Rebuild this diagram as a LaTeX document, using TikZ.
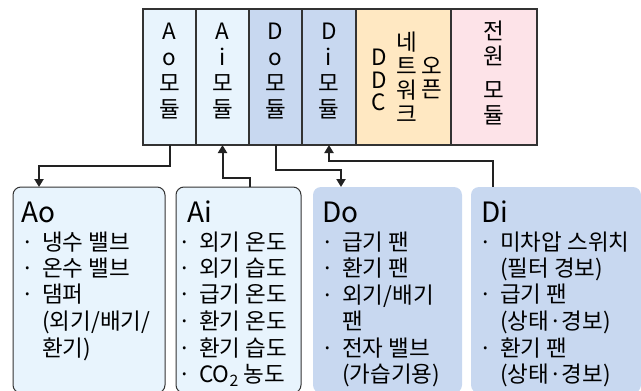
\documentclass[tikz,border=0pt]{standalone}
\usepackage{fontspec}
\setmainfont{Noto Sans CJK KR}
\usetikzlibrary{positioning,calc,arrows.meta}
\definecolor{aolight}{HTML}{E8F4FD}
\definecolor{doblue}{HTML}{C8D8F0}
\definecolor{netorange}{HTML}{FFE8C2}
\definecolor{powerpink}{HTML}{FDE3E8}
\definecolor{edgegray}{HTML}{333333}
\definecolor{arrowblack}{HTML}{222222}
\newcommand{\dotitem}{\llap{\makebox[28pt]{·}}}
\tikzset{
  module/.style={draw=edgegray, line width=1.2pt, minimum height=136pt, outer sep=0pt, inner sep=0pt, anchor=north west},
  modtext/.style={align=center, inner sep=0pt, font=\fontsize{22.5}{26}\selectfont},
  listbox/.style={rounded corners=8pt, minimum height=206pt, anchor=north west, inner sep=0pt, outer sep=0pt},
  head/.style={anchor=base west, inner sep=0pt, font=\fontsize{28}{32}\selectfont},
  items/.style={anchor=base west, inner sep=0pt, font=\fontsize{22.5}{26.3}\selectfont},
  conn/.style={draw=arrowblack, line width=2pt},
  endtip/.style={-{Triangle[length=8pt,width=9pt]}}
}
\begin{document}
\begin{tikzpicture}[x=1pt,y=-1pt]
    \useasboundingbox (0,0) rectangle (641,391);
    % top panel
    \node[module, fill=aolight, minimum width=53pt] (aomod) at (143,9) {};
    \node[module, fill=aolight, minimum width=53pt] (aimod) at (196,9) {};
    \node[module, fill=doblue, minimum width=53pt] (domod) at (249,9) {};
    \node[module, fill=doblue, minimum width=54pt] (dimod) at (302,9) {};
    \node[module, fill=netorange, minimum width=95pt] (netmod) at (356,9) {};
    \node[module, fill=powerpink, minimum width=86pt] (powmod) at (451,9) {};
    \node[modtext] (aotxt) at (169.5,71) {A\\o\\모\\듈};
    \node[modtext] (aitxt) at (222.5,71) {A\\i\\모\\듈};
    \node[modtext] (dotxt) at (275.5,71) {D\\o\\모\\듈};
    \node[modtext] (ditxt) at (329,71) {D\\i\\모\\듈};
    \node[modtext, font=\fontsize{22.5}{22.5}\selectfont] (ddctxt) at (379,80) {D\\D\\C};
    \node[modtext, font=\fontsize{22.5}{24}\selectfont] (nettxt) at (407,77) {네\\트\\워\\크};
    \node[modtext, font=\fontsize{22.5}{23}\selectfont] (opentxt) at (432,78.5) {오\\픈};
    \node[modtext, font=\fontsize{22.5}{24.5}\selectfont] (powtxt) at (494,73) {전\\원\\[10pt]모\\듈};
    % lower boxes
    \node[listbox, fill=aolight, draw=edgegray, line width=1pt, minimum width=152pt] (aobox) at (13,187) {};
    \node[listbox, fill=aolight, draw=edgegray, line width=1pt, minimum width=125pt] (aibox) at (176,187) {};
    \node[listbox, fill=doblue, minimum width=149pt] (dobox) at (313,187) {};
    \node[listbox, fill=doblue, minimum width=170pt] (dibox) at (471,187) {};
    \node[head] (aohead) at (21,222) {Ao};
    \node[head] (aihead) at (187,222) {Ai};
    \node[head] (dohead) at (322,222) {Do};
    \node[head] (dihead) at (481,222) {Di};
    \node[items] (aoitems) at (42,250) {\begin{tabular}[t]{@{}l@{}}\dotitem 냉수 밸브\\ \dotitem 온수 밸브\\ \dotitem 댐퍼\\ (외기/배기/\\ 환기)\end{tabular}};
    \node[items] (aiitems) at (199,250) {\begin{tabular}[t]{@{}l@{}}\dotitem 외기 온도\\ \dotitem 외기 습도\\ \dotitem 급기 온도\\ \dotitem 환기 온도\\ \dotitem 환기 습도\\ \dotitem CO\textsubscript{2} 농도\end{tabular}};
    \node[items] (doitems) at (342,250) {\begin{tabular}[t]{@{}l@{}}\dotitem 급기 팬\\ \dotitem 환기 팬\\ \dotitem 외기/배기\\ 팬\\ \dotitem 전자 밸브\\ (가습기용)\end{tabular}};
    \node[items] (diitems) at (500,250) {\begin{tabular}[t]{@{}l@{}}\dotitem 미차압 스위치\\ (필터 경보)\\ \dotitem 급기 팬\\ (상태·경보)\\ \dotitem 환기 팬\\ (상태·경보)\end{tabular}};
    % connectors
    \draw[conn, endtip] (aomod.south) -- ++(0,21) -| ([xshift=26pt]aobox.north west);
    \draw[conn, endtip] ([xshift=74pt]aibox.north west) -- ++(0,-9) -| (aimod.south);
    \draw[conn, endtip] (domod.south) -- ++(0,25) -| ([xshift=28pt]dobox.north west);
    \draw[conn, endtip] ([xshift=22pt]dibox.north west) -- ++(0,-26) -| (dimod.south);
\end{tikzpicture}
\end{document}
